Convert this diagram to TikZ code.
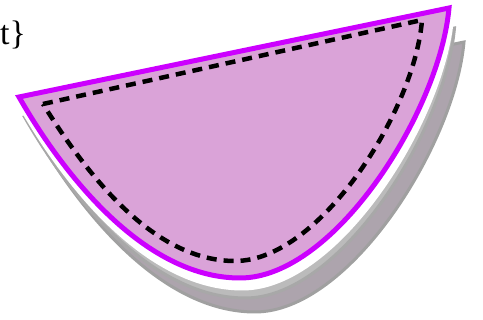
\documentclass[tikz,border=0pt]{standalone}
\usepackage{fontspec}
\setmainfont{Liberation Serif}
\definecolor{plumfill}{RGB}{218,163,216}
\definecolor{violetline}{RGB}{204,0,255}
\definecolor{shadowA}{RGB}{187,187,187}
\definecolor{shadowAline}{RGB}{168,168,168}
\definecolor{shadowB}{RGB}{173,164,173}
\definecolor{shadowBline}{RGB}{160,160,160}
\tikzset{
  mainshape/.style={fill=plumfill, draw=violetline, line width=5pt},
  whitecopy/.style={fill=white, draw=white, line width=5pt},
  shadowone/.style={fill=shadowA, draw=shadowAline, line width=3pt},
  shadowtwo/.style={fill=shadowB, draw=shadowBline, line width=3pt},
  innerdash/.style={draw=black, line width=4.5pt, dash pattern=on 10pt off 7pt},
  lbl/.style={inner sep=0pt, anchor=base west, font=\fontsize{34}{40}\selectfont}
}
\newcommand{\blobpath}{(19,97) -- (449,8) .. controls (440,110) and (335,278) .. (240,278) .. controls (150,278) and (70,186) .. cycle}
\begin{document}
\begin{tikzpicture}[x=1pt,y=-1pt]
\useasboundingbox (0,0) rectangle (483,320);
% shadows
\path[shadowtwo, shift={(15,34)}] \blobpath;
\path[shadowone, shift={(5.5,20)}] \blobpath;
\path[whitecopy, shift={(2.5,10)}] \blobpath;
% main shape
\path[mainshape] \blobpath;
% inner dashed outline
\path[innerdash] (43,104) -- (422,20) .. controls (415,110) and (320,261) .. (235,261) .. controls (150,261) and (83,168) .. cycle;
% text
\node[lbl] (t) at (0,45) {t\}};
\end{tikzpicture}
\end{document}
